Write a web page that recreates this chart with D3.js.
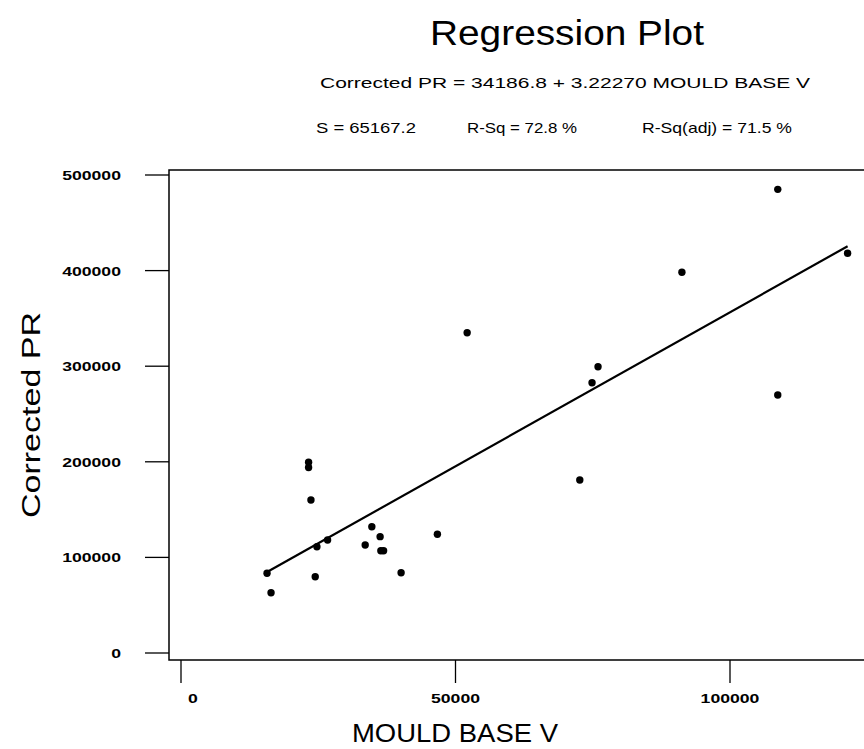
<!DOCTYPE html>
<html>
<head>
<meta charset="utf-8">
<script src="https://cdn.jsdelivr.net/npm/d3@7"></script>
<style>
  body { margin: 0; background: #fff; }
  text { font-family: "Liberation Sans", Arial, sans-serif; fill: #000; }
</style>
</head>
<body>
<div id="chart"></div>
<script>
// Chart data
const mouldBase = [15670, 16400, 23240, 23240, 23670, 24450, 24760, 26700, 33550, 34760,
                   36270, 36400, 36900, 40090, 46700, 52120, 72640, 74870, 75960, 91240,
                   108700, 108700, 121420];
const correctedPR = [83400, 63100, 199500, 194000, 160000, 79800, 111200, 118200, 113000, 132100,
                     121700, 107000, 107000, 84000, 124200, 335000, 181000, 282700, 299500, 398200,
                     485000, 269900, 418100];
const xTicks = [0, 50000, 100000];
const yTicks = [0, 100000, 200000, 300000, 400000, 500000];
const intercept = 34186.8;
const slope = 3.22270;

const width = 864;
const height = 749;

const svg = d3.select("#chart").append("svg")
    .attr("width", width)
    .attr("height", height);

const x = d3.scaleLinear().domain([0, 100000]).range([181, 730]);
const y = d3.scaleLinear().domain([0, 500000]).range([653, 175]);

// Titles
svg.append("text")
    .attr("x", 567).attr("y", 45)
    .attr("text-anchor", "middle")
    .attr("font-size", 35)
    .attr("textLength", 274).attr("lengthAdjust", "spacingAndGlyphs")
    .text("Regression Plot");

svg.append("text")
    .attr("x", 565).attr("y", 88)
    .attr("text-anchor", "middle")
    .attr("font-size", 15)
    .attr("textLength", 490).attr("lengthAdjust", "spacingAndGlyphs")
    .text("Corrected PR = 34186.8 + 3.22270 MOULD BASE V");

const stats = [
  { label: "S = 65167.2", x: 316, w: 100 },
  { label: "R-Sq = 72.8 %", x: 467, w: 110 },
  { label: "R-Sq(adj) = 71.5 %", x: 642, w: 150 }
];
svg.selectAll(".stat")
  .data(stats)
  .enter().append("text")
    .attr("class", "stat")
    .attr("x", d => d.x).attr("y", 133)
    .attr("font-size", 15)
    .attr("textLength", d => d.w).attr("lengthAdjust", "spacingAndGlyphs")
    .text(d => d.label);

// Plot frame (runs off the right edge like the original)
svg.append("path")
    .attr("d", "M900,170H169V660H900")
    .attr("fill", "none")
    .attr("stroke", "#000")
    .attr("stroke-width", 1.5);

// Y axis ticks
const yAxis = svg.append("g");
yAxis.selectAll("line")
  .data(yTicks)
  .enter().append("line")
    .attr("x1", 145).attr("x2", 169)
    .attr("y1", d => y(d)).attr("y2", d => y(d))
    .attr("stroke", "#000").attr("stroke-width", 1.3);
yAxis.selectAll("text")
  .data(yTicks)
  .enter().append("text")
    .attr("x", 121).attr("y", d => y(d) + 5)
    .attr("text-anchor", "end")
    .attr("font-size", 13)
    .attr("font-weight", "bold")
    .attr("textLength", d => String(d).length * 9.8)
    .attr("lengthAdjust", "spacingAndGlyphs")
    .text(d => d);

// X axis ticks
const xAxis = svg.append("g");
xAxis.selectAll("line")
  .data(xTicks)
  .enter().append("line")
    .attr("x1", d => x(d)).attr("x2", d => x(d))
    .attr("y1", 660).attr("y2", 683)
    .attr("stroke", "#000").attr("stroke-width", 1.3);
xAxis.selectAll("text")
  .data(xTicks)
  .enter().append("text")
    .attr("x", (d, i) => x(d) + (i === 0 ? 12 : 0)).attr("y", 703)
    .attr("text-anchor", "middle")
    .attr("font-size", 13)
    .attr("font-weight", "bold")
    .attr("textLength", d => String(d).length * 9.8)
    .attr("lengthAdjust", "spacingAndGlyphs")
    .text(d => d);

// Axis titles
svg.append("text")
    .attr("x", 455).attr("y", 742)
    .attr("text-anchor", "middle")
    .attr("font-size", 26)
    .attr("textLength", 206).attr("lengthAdjust", "spacingAndGlyphs")
    .text("MOULD BASE V");

svg.append("text")
    .attr("transform", "translate(40,415) rotate(-90)")
    .attr("text-anchor", "middle")
    .attr("font-size", 26)
    .attr("textLength", 206).attr("lengthAdjust", "spacingAndGlyphs")
    .text("Corrected PR");

// Fitted regression line
const xExtent = d3.extent(mouldBase);
svg.append("line")
    .attr("x1", x(xExtent[0])).attr("y1", y(intercept + slope * xExtent[0]))
    .attr("x2", x(xExtent[1])).attr("y2", y(intercept + slope * xExtent[1]))
    .attr("stroke", "#000").attr("stroke-width", 2.2);

// Points
svg.selectAll(".pt")
  .data(mouldBase.map((v, i) => [v, correctedPR[i]]))
  .enter().append("circle")
    .attr("class", "pt")
    .attr("cx", d => x(d[0]))
    .attr("cy", d => y(d[1]))
    .attr("r", 3.7)
    .attr("fill", "#000");
</script>
</body>
</html>
